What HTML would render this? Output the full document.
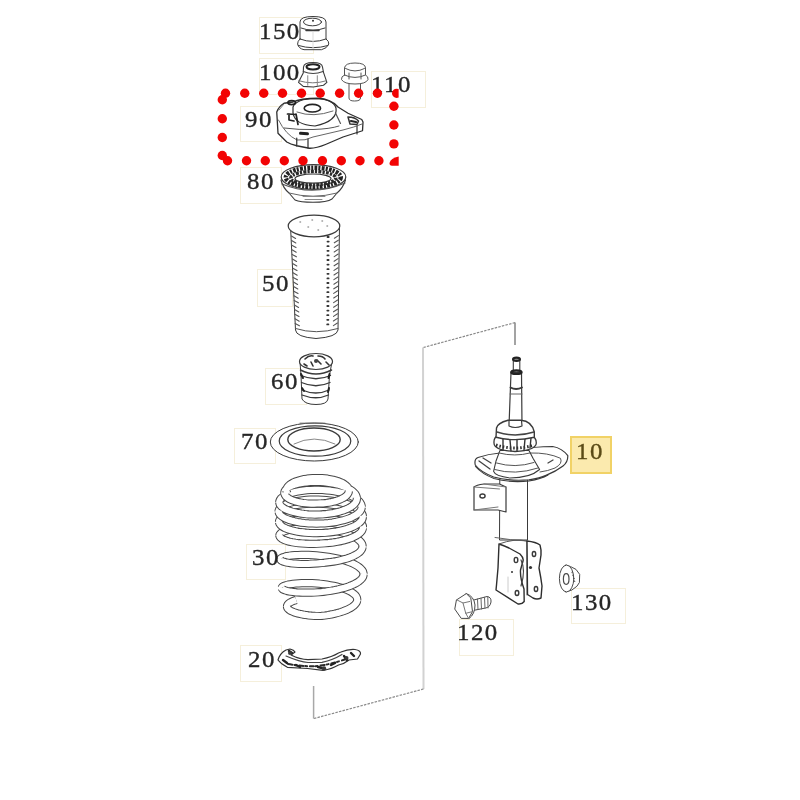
<!DOCTYPE html>
<html><head><meta charset="utf-8">
<style>
html,body{margin:0;padding:0;background:#fff}
body{width:800px;height:800px;position:relative;overflow:hidden}
.b{position:absolute;box-sizing:border-box;border:1.5px solid #f5efdb}
.t{position:absolute;font-family:"Liberation Serif",serif;font-size:23px;line-height:23px;color:#262626;letter-spacing:1.4px;white-space:nowrap;will-change:transform;transform:scaleX(1.08);transform-origin:0 0;-webkit-text-stroke:0.35px currentColor}
svg{position:absolute;left:0;top:0}
</style></head><body>
<!-- label boxes -->
<div class="b" style="left:259px;top:17px;width:55px;height:37px"></div>
<div class="b" style="left:259px;top:58px;width:55px;height:37px"></div>
<div class="b" style="left:371px;top:71px;width:55px;height:37px"></div>
<div class="b" style="left:240px;top:106px;width:42px;height:36px"></div>
<div class="b" style="left:240px;top:167px;width:42px;height:37px"></div>
<div class="b" style="left:257px;top:269px;width:36px;height:38px"></div>
<div class="b" style="left:265px;top:368px;width:42px;height:37px"></div>
<div class="b" style="left:234px;top:428px;width:42px;height:36px"></div>
<div class="b" style="left:246px;top:544px;width:40px;height:36px"></div>
<div class="b" style="left:240px;top:645px;width:42px;height:37px"></div>
<div class="b" style="left:570px;top:436px;width:42px;height:38px;border:2px solid #f1d266;background:#fbeaae"></div>
<div class="b" style="left:459px;top:619px;width:55px;height:37px"></div>
<div class="b" style="left:571px;top:588px;width:55px;height:36px"></div>

<svg width="800" height="800" viewBox="0 0 800 800">
<g fill="none">
<path d="M515,345 L515,322.6" stroke="#666" stroke-width="1.2"/>
<path d="M515,322.6 L422.8,347.6" stroke="#8a8a8a" stroke-width="1.2" stroke-dasharray="2.5 1.2"/>
<path d="M423,347.6 L423.5,689" stroke="#d2d2d2" stroke-width="2"/>
<path d="M423.5,689 L313.6,718.6" stroke="#8a8a8a" stroke-width="1.2" stroke-dasharray="2.5 1.2"/>
<path d="M313.6,718.6 L313.6,686" stroke="#a8a8a8" stroke-width="1.5"/>
</g>
<g id="parts" fill="#fff" stroke="#3a3a3a" stroke-width="1" stroke-linejoin="round" stroke-linecap="round">
<!-- 150 cap -->
<g>
<path d="M300,39 L300,22 Q300,16.5 313,16.5 Q326,16.5 326,22 L326,39 Q329,41 328.8,44 Q327,48.5 321.5,49.7 L304,49.7 Q298.5,48.5 297.6,44 Q297.5,41 300,39 Z"/>
<ellipse cx="312.5" cy="22" rx="9" ry="3.8" fill="none"/>
<path d="M301,28 Q313,32.5 325,28" fill="none"/>
<path d="M306,30.5 L319,30.5" fill="none" stroke-width="1.5"/>
<path d="M300,39 Q313,44 326,39" fill="none"/>
<path d="M298.5,45.5 Q313,50 328,45.5" fill="none"/>
<path d="M313,32 L313,48" fill="none" stroke="#ddd"/>
<circle cx="313" cy="20.7" r="1" fill="#333" stroke="none"/>
</g>
<!-- 100 nut -->
<g>
<path d="M303.5,67 L303.25,72.9 L300.4,78.5 L298.5,82.4 L303.25,86.4 L313.4,87 L323.5,85.25 L326.9,82.4 L325.2,77.4 L323.5,72.3 L322.5,67 Q322,62.5 313,62.5 Q304,62.5 303.5,67 Z" stroke-width="1.1"/>
<ellipse cx="313" cy="66.8" rx="6.5" ry="2.6" fill="none" stroke-width="2" stroke="#222"/>
<path d="M303.3,71.5 Q313,75.5 323,71.5" fill="none" stroke="#444" stroke-width="1.2"/>
<path d="M298.75,80.75 Q313,85 326.3,80.75" fill="none" stroke="#777"/>
<path d="M307.75,75.7 L307.75,85.25 M317.3,75.7 L317.3,85.8" fill="none" stroke="#888"/>
</g>
<!-- 110 bolt -->
<g stroke="#555">
<path d="M349,83 L349,98 Q349,101 354.5,101 Q360.5,101 360.5,98 L360.5,83 Z"/>
<path d="M344.5,75 L344.5,68 Q345,63 355,63 Q365.5,63 365.5,68 L365.5,75 Q368.5,76.5 368,79.5 Q366,84 355,84 Q344,84 341.5,79.5 Q341,76.5 344.5,75 Z"/>
<path d="M345.5,68.5 Q355,73.5 364.5,68.5 M344.5,75 Q355,80 365.5,75 M349,73 L349,79 M361,73 L361,79" fill="none"/>
</g>
<!-- 90 mount -->
<g stroke="#2e2e2e">
<path d="M276.75,112 Q279,106 284,103.25 L293,102 Q300,98.5 318,98.25 Q331,99 338,107 L348,113.25 L361.75,119.5 L363,122 L362.5,130.75 L343,137 L325.5,144.5 Q316,148.5 309.25,148.25 L296.75,145.75 Q290,144 286.75,142 L278,133.25 Z" stroke-width="1.3"/>
<path d="M293,107 Q296,99 315,98.5 Q333,99 336,108 Q338,121 315,126 Q295,125 293,113 Z" fill="none" stroke-width="1.2"/>
<ellipse cx="312.4" cy="108.2" rx="8.2" ry="3.8" fill="none" stroke-width="1.6" stroke="#222"/>
<path d="M297,112 Q313,118 333,111" fill="none" stroke="#666"/>
<ellipse cx="291.7" cy="102.6" rx="3.8" ry="2" fill="none" stroke-width="1.8" stroke="#222"/>
<path d="M284,128 Q300,130 313,129.5 Q330,129 339,126" fill="none" stroke="#555"/>
<path d="M278.5,120 Q286,135 297,140 Q305,141 313,137 L343,130 Q355,127 362,124" fill="none" stroke="#666"/>
<path d="M296.75,138 L296.75,146 M308,139 L308,148" fill="none" stroke-width="1.2"/>
<path d="M287.5,114 L296,114.5 M289,114 L289,120 L294,121 M296,114 L298,124.5" fill="none" stroke-width="1.7" stroke="#222"/>
<path d="M300.5,133.3 L307.5,133.8" fill="none" stroke-width="3" stroke="#222"/>
<path d="M348,117 Q355,117 358.5,121 L357,124.5 L350,124 Z" fill="none" stroke-width="1.5" stroke="#333"/>
<path d="M351,121 L356,122" fill="none" stroke-width="2.2" stroke="#222"/>
<path d="M335.5,113 L340.5,123.5" fill="none" stroke="#555" stroke-width="1.2"/>
<path d="M357,126 L357,134" fill="none" stroke-width="1.2"/>
<path d="M284,104 L279,110" fill="none" stroke="#777"/>
</g>
<!-- 80 bearing -->
<g>
<path d="M281,180 Q283,188 289,193 L295,200 Q300,202.3 313,202.3 Q327,202.3 332,199 L337,193 Q343,188 345.5,180" stroke-width="1.1"/>
<ellipse cx="313.5" cy="177" rx="32.3" ry="12.3" stroke-width="1.2"/>
<ellipse cx="313.3" cy="177.3" rx="27.5" ry="9.6" fill="none" stroke="#222" stroke-width="4.4" stroke-dasharray="2.8 1.1 2 1.3" stroke-linecap="butt"/>
<ellipse cx="313.3" cy="178" rx="22.5" ry="6.6" fill="none" stroke="#2a2a2a" stroke-width="3.4" stroke-dasharray="2.2 1.2 3 1.1" stroke-linecap="butt"/>
<ellipse cx="313" cy="178.6" rx="18" ry="4.6" fill="#fff" stroke="#333" stroke-width="1.2"/>
<path d="M282,184 Q313,197 345,183" fill="none" stroke="#555" stroke-width="1.2"/>
<path d="M289,193 Q313,199.5 337,193" fill="none" stroke="#666"/>
<path d="M303,196.5 L325,196.5 M305,199.5 L322,199.5" fill="none" stroke="#888"/>
</g>
<!-- 50 boot -->
<g>
<path d="M290.5,226 L295.5,330 Q296,337 316,338.5 Q337,337 338,330 L339.5,226 Z"/>
<ellipse cx="314" cy="226" rx="25.8" ry="10.8" stroke-width="1.2"/>
<path d="M295.5,328.5 Q316,335 338,328.5" fill="none" stroke="#555"/>
<g fill="none" stroke="#555" stroke-width="1.1" id="bl"><path d="M291.4,236.0 l4.2,2.4 M334.4,238.2 l4,-2.6 M291.6,240.6 l4.2,2.4 M334.3,242.8 l4,-2.6 M291.8,245.2 l4.2,2.4 M334.3,247.4 l4,-2.6 M292.0,249.8 l4.2,2.4 M334.2,252.0 l4,-2.6 M292.2,254.4 l4.2,2.4 M334.2,256.6 l4,-2.6 M292.4,259.0 l4.2,2.4 M334.1,261.2 l4,-2.6 M292.6,263.6 l4.2,2.4 M334.1,265.8 l4,-2.6 M292.8,268.2 l4.2,2.4 M334.0,270.4 l4,-2.6 M293.0,272.8 l4.2,2.4 M334.0,275.0 l4,-2.6 M293.2,277.4 l4.2,2.4 M333.9,279.6 l4,-2.6 M293.4,282.0 l4.2,2.4 M333.9,284.2 l4,-2.6 M293.6,286.6 l4.2,2.4 M333.8,288.8 l4,-2.6 M293.8,291.2 l4.2,2.4 M333.7,293.4 l4,-2.6 M294.0,295.8 l4.2,2.4 M333.7,298.0 l4,-2.6 M294.2,300.4 l4.2,2.4 M333.6,302.6 l4,-2.6 M294.4,305.0 l4.2,2.4 M333.6,307.2 l4,-2.6 M294.6,309.6 l4.2,2.4 M333.5,311.8 l4,-2.6 M294.8,314.2 l4.2,2.4 M333.5,316.4 l4,-2.6 M295.0,318.8 l4.2,2.4 M333.4,321.0 l4,-2.6 M295.2,323.4 l4.2,2.4 M333.4,325.6 l4,-2.6"/><path d="M327.5,237.0 l1.2,0 M327.5,241.6 l1.2,0 M327.4,246.2 l1.2,0 M327.4,250.8 l1.2,0 M327.4,255.4 l1.2,0 M327.4,260.0 l1.2,0 M327.4,264.6 l1.2,0 M327.4,269.2 l1.2,0 M327.4,273.8 l1.2,0 M327.4,278.4 l1.2,0 M327.3,283.0 l1.2,0 M327.3,287.6 l1.2,0 M327.3,292.2 l1.2,0 M327.3,296.8 l1.2,0 M327.3,301.4 l1.2,0 M327.3,306.0 l1.2,0 M327.3,310.6 l1.2,0 M327.2,315.2 l1.2,0 M327.2,319.8 l1.2,0 M327.2,324.4 l1.2,0" stroke="#333" stroke-width="1.8"/><path d="M300,222 l0.5,0 M312,220 l0.5,0 M322,221 l0.5,0 M308,227 l0.5,0 M327,226 l0.5,0 M318,230 l0.5,0" stroke-width="1.5" stroke="#999"/></g>
</g>
<!-- 60 bump stop -->
<g>
<path d="M300,362 L301,375 L302,399 Q305,404.5 316,404.5 Q327,404.5 328,399 L329.5,375 L332,362 Z"/>
<ellipse cx="316" cy="361.5" rx="16.5" ry="8" stroke-width="1.2"/>
<path d="M300.5,370 Q316,378 331.5,370" fill="none" stroke-width="1.6"/>
<path d="M301,375.5 Q316,382 330.5,375.5 M301.5,382.5 Q316,389 330,382.5 M302,390 Q316,396 329,390 M302,395 Q316,400.5 328.5,395" fill="none" stroke-width="1.3"/>
<path d="M301,374 L303,378 M302,388 L304,391 M329,388 L328,392 M329.5,374 L328.5,378" fill="none" stroke-width="2" stroke="#222"/>
<path d="M305,359 Q309,355 313,356 M318,356 Q323,356 325,359 M311,362 L313,366 M317,360 L321,364 M326,362 L329,365 M304,364 L307,366" fill="none" stroke-width="1.6" stroke="#333"/>
<circle cx="316" cy="361" r="2" fill="#444" stroke="none"/>
</g>
<!-- 70 ring -->
<g>
<ellipse cx="314.3" cy="442" rx="44" ry="19"/>
<ellipse cx="315" cy="441" rx="35.8" ry="15.2" fill="none" stroke-width="1.2"/>
<ellipse cx="314" cy="439.5" rx="26.2" ry="11.5" fill="none" stroke-width="1.4"/>
<path d="M294,444 Q314,434 335,444" fill="none" stroke="#888"/>
<path d="M300,423.2 L325,423.2" fill="none" stroke="#666"/>
</g>
<!-- 30 spring -->
<g id="spring">
<path d="M286.4,490.6 L286.4,489.4 L286.8,488.2 L287.4,487.1 L288.3,486.0 L289.5,484.9 L291.0,483.8 L292.7,482.8 L294.6,481.9 L296.7,481.1 L299.0,480.4 L301.5,479.7 L304.2,479.1 L307.0,478.7 L309.8,478.4 L312.8,478.1 L315.8,478.0 L318.8,478.0 L321.8,478.1 L324.7,478.4 L327.6,478.7 L330.4,479.2 L333.1,479.7 L335.7,480.4 L338.0,481.1 L340.2,482.0 L342.2,482.9 L343.9,483.9 L345.4,485.0 L346.7,486.1 L347.7,487.2 L348.3,488.4 L348.8,489.6 L348.9,490.8 M284.4,493.4 L284.4,492.3 L284.7,491.1 L285.4,490.0 L286.3,489.0 L287.5,487.9 L289.1,486.9 L290.9,486.0 L293.0,485.2 L295.3,484.4 L297.9,483.7 L300.7,483.1 L303.7,482.6 L306.8,482.3 L310.1,482.0 L313.4,481.9 L316.8,481.9 L320.3,482.0 L323.8,482.2 L327.3,482.6 L330.7,483.1 L334.0,483.7 L337.2,484.4 L340.2,485.3 L343.1,486.2 L345.7,487.3 L348.2,488.4 L350.3,489.6 L352.2,490.9 L353.8,492.3 L355.1,493.7 L356.0,495.2 L356.6,496.6 L356.9,498.1 M279.3,502.4 L279.4,501.1 L279.9,499.9 L280.8,498.6 L282.1,497.4 L283.7,496.3 L285.6,495.2 L287.9,494.2 L290.4,493.3 L293.3,492.5 L296.4,491.7 L299.7,491.1 L303.2,490.6 L306.9,490.2 L310.7,490.0 L314.5,489.8 L318.5,489.9 L322.4,490.0 L326.4,490.3 L330.3,490.7 L334.1,491.2 L337.8,491.9 L341.3,492.7 L344.6,493.6 L347.7,494.6 L350.6,495.7 L353.2,497.0 L355.4,498.3 L357.4,499.6 L359.0,501.0 L360.2,502.5 L361.1,504.0 L361.6,505.6 L361.7,507.1 M278.6,511.8 L278.7,510.5 L279.2,509.3 L280.0,508.1 L281.3,506.9 L282.9,505.8 L284.8,504.8 L287.1,503.8 L289.7,502.9 L292.6,502.1 L295.7,501.4 L299.1,500.8 L302.6,500.3 L306.4,499.9 L310.2,499.7 L314.2,499.6 L318.2,499.6 L322.3,499.8 L326.3,500.1 L330.3,500.5 L334.2,501.0 L338.0,501.7 L341.6,502.5 L345.0,503.4 L348.2,504.4 L351.1,505.5 L353.8,506.7 L356.2,508.0 L358.2,509.3 L359.9,510.7 L361.2,512.2 L362.1,513.6 L362.7,515.1 L362.9,516.7 M279.0,522.1 L279.1,521.0 L279.6,519.8 L280.5,518.7 L281.8,517.6 L283.4,516.6 L285.3,515.6 L287.6,514.7 L290.3,513.8 L293.2,513.1 L296.3,512.4 L299.7,511.9 L303.3,511.4 L307.0,511.1 L310.9,510.9 L314.8,510.8 L318.9,510.9 L322.9,511.0 L326.9,511.3 L330.9,511.8 L334.8,512.3 L338.5,513.0 L342.1,513.7 L345.5,514.6 L348.7,515.6 L351.6,516.7 L354.2,517.9 L356.5,519.1 L358.5,520.4 L360.2,521.8 L361.4,523.2 L362.3,524.6 L362.9,526.1 L363.0,527.6 M279.4,535.6 L279.5,534.7 L280.1,533.9 L281.0,533.0 L282.3,532.2 L284.0,531.4 L286.0,530.7 L288.3,530.1 L291.0,529.5 L293.9,529.1 L297.0,528.7 L300.4,528.4 L304.0,528.2 L307.7,528.1 L311.6,528.2 L315.5,528.3 L319.5,528.6 L323.5,529.0 L327.5,529.5 L331.4,530.1 L335.2,530.8 L338.9,531.6 L342.5,532.5 L345.8,533.5 L348.9,534.6 L351.7,535.8 L354.3,537.0 L356.5,538.3 L358.4,539.7 L360.0,541.1 L361.2,542.5 L362.1,543.9 L362.5,545.4 L362.6,546.8 M280.4,559.3 L280.5,558.7 L281.1,558.2 L282.0,557.6 L283.3,557.1 L285.0,556.6 L287.0,556.1 L289.3,555.7 L291.9,555.4 L294.8,555.1 L298.0,555.0 L301.3,554.9 L304.9,554.9 L308.6,554.9 L312.5,555.1 L316.4,555.4 L320.4,555.8 L324.4,556.3 L328.4,556.8 L332.3,557.5 L336.1,558.3 L339.8,559.1 L343.4,560.1 L346.7,561.1 L349.8,562.3 L352.7,563.4 L355.2,564.7 L357.5,566.0 L359.4,567.4 L361.0,568.8 L362.2,570.2 L363.1,571.7 L363.5,573.2 L363.6,574.1 M281.7,587.9 L281.9,587.3 L282.5,586.7 L283.4,586.1 L284.7,585.6 L286.3,585.1 L288.2,584.6 L290.4,584.2 L292.9,583.8 L295.7,583.5 L298.6,583.3 L301.8,583.1 L305.1,583.1 L308.6,583.1 L312.1,583.2 L315.8,583.4 L319.4,583.7 L323.0,584.1 L326.7,584.6 L330.2,585.2 L333.6,585.8 L336.9,586.6 L340.0,587.4 L343.0,588.3 L345.7,589.3 L348.2,590.4 L350.4,591.5 L352.3,592.7 L353.9,593.9 L355.3,595.1 L356.3,596.4 L356.9,597.7 L357.2,599.1 L357.2,600.4 M287.0,606.6 L287.1,605.7 L287.5,604.8 L288.3,603.9 L289.3,603.0 L290.6,602.2 L292.2,601.4 L294.1,600.7 L296.2,600.0" fill="none" stroke="#484848" stroke-width="8.2" stroke-linecap="butt" stroke-linejoin="round"/>
<path d="M286.4,490.6 L286.4,489.4 L286.8,488.2 L287.4,487.1 L288.3,486.0 L289.5,484.9 L291.0,483.8 L292.7,482.8 L294.6,481.9 L296.7,481.1 L299.0,480.4 L301.5,479.7 L304.2,479.1 L307.0,478.7 L309.8,478.4 L312.8,478.1 L315.8,478.0 L318.8,478.0 L321.8,478.1 L324.7,478.4 L327.6,478.7 L330.4,479.2 L333.1,479.7 L335.7,480.4 L338.0,481.1 L340.2,482.0 L342.2,482.9 L343.9,483.9 L345.4,485.0 L346.7,486.1 L347.7,487.2 L348.3,488.4 L348.8,489.6 L348.9,490.8 M284.4,493.4 L284.4,492.3 L284.7,491.1 L285.4,490.0 L286.3,489.0 L287.5,487.9 L289.1,486.9 L290.9,486.0 L293.0,485.2 L295.3,484.4 L297.9,483.7 L300.7,483.1 L303.7,482.6 L306.8,482.3 L310.1,482.0 L313.4,481.9 L316.8,481.9 L320.3,482.0 L323.8,482.2 L327.3,482.6 L330.7,483.1 L334.0,483.7 L337.2,484.4 L340.2,485.3 L343.1,486.2 L345.7,487.3 L348.2,488.4 L350.3,489.6 L352.2,490.9 L353.8,492.3 L355.1,493.7 L356.0,495.2 L356.6,496.6 L356.9,498.1 M279.3,502.4 L279.4,501.1 L279.9,499.9 L280.8,498.6 L282.1,497.4 L283.7,496.3 L285.6,495.2 L287.9,494.2 L290.4,493.3 L293.3,492.5 L296.4,491.7 L299.7,491.1 L303.2,490.6 L306.9,490.2 L310.7,490.0 L314.5,489.8 L318.5,489.9 L322.4,490.0 L326.4,490.3 L330.3,490.7 L334.1,491.2 L337.8,491.9 L341.3,492.7 L344.6,493.6 L347.7,494.6 L350.6,495.7 L353.2,497.0 L355.4,498.3 L357.4,499.6 L359.0,501.0 L360.2,502.5 L361.1,504.0 L361.6,505.6 L361.7,507.1 M278.6,511.8 L278.7,510.5 L279.2,509.3 L280.0,508.1 L281.3,506.9 L282.9,505.8 L284.8,504.8 L287.1,503.8 L289.7,502.9 L292.6,502.1 L295.7,501.4 L299.1,500.8 L302.6,500.3 L306.4,499.9 L310.2,499.7 L314.2,499.6 L318.2,499.6 L322.3,499.8 L326.3,500.1 L330.3,500.5 L334.2,501.0 L338.0,501.7 L341.6,502.5 L345.0,503.4 L348.2,504.4 L351.1,505.5 L353.8,506.7 L356.2,508.0 L358.2,509.3 L359.9,510.7 L361.2,512.2 L362.1,513.6 L362.7,515.1 L362.9,516.7 M279.0,522.1 L279.1,521.0 L279.6,519.8 L280.5,518.7 L281.8,517.6 L283.4,516.6 L285.3,515.6 L287.6,514.7 L290.3,513.8 L293.2,513.1 L296.3,512.4 L299.7,511.9 L303.3,511.4 L307.0,511.1 L310.9,510.9 L314.8,510.8 L318.9,510.9 L322.9,511.0 L326.9,511.3 L330.9,511.8 L334.8,512.3 L338.5,513.0 L342.1,513.7 L345.5,514.6 L348.7,515.6 L351.6,516.7 L354.2,517.9 L356.5,519.1 L358.5,520.4 L360.2,521.8 L361.4,523.2 L362.3,524.6 L362.9,526.1 L363.0,527.6 M279.4,535.6 L279.5,534.7 L280.1,533.9 L281.0,533.0 L282.3,532.2 L284.0,531.4 L286.0,530.7 L288.3,530.1 L291.0,529.5 L293.9,529.1 L297.0,528.7 L300.4,528.4 L304.0,528.2 L307.7,528.1 L311.6,528.2 L315.5,528.3 L319.5,528.6 L323.5,529.0 L327.5,529.5 L331.4,530.1 L335.2,530.8 L338.9,531.6 L342.5,532.5 L345.8,533.5 L348.9,534.6 L351.7,535.8 L354.3,537.0 L356.5,538.3 L358.4,539.7 L360.0,541.1 L361.2,542.5 L362.1,543.9 L362.5,545.4 L362.6,546.8 M280.4,559.3 L280.5,558.7 L281.1,558.2 L282.0,557.6 L283.3,557.1 L285.0,556.6 L287.0,556.1 L289.3,555.7 L291.9,555.4 L294.8,555.1 L298.0,555.0 L301.3,554.9 L304.9,554.9 L308.6,554.9 L312.5,555.1 L316.4,555.4 L320.4,555.8 L324.4,556.3 L328.4,556.8 L332.3,557.5 L336.1,558.3 L339.8,559.1 L343.4,560.1 L346.7,561.1 L349.8,562.3 L352.7,563.4 L355.2,564.7 L357.5,566.0 L359.4,567.4 L361.0,568.8 L362.2,570.2 L363.1,571.7 L363.5,573.2 L363.6,574.1 M281.7,587.9 L281.9,587.3 L282.5,586.7 L283.4,586.1 L284.7,585.6 L286.3,585.1 L288.2,584.6 L290.4,584.2 L292.9,583.8 L295.7,583.5 L298.6,583.3 L301.8,583.1 L305.1,583.1 L308.6,583.1 L312.1,583.2 L315.8,583.4 L319.4,583.7 L323.0,584.1 L326.7,584.6 L330.2,585.2 L333.6,585.8 L336.9,586.6 L340.0,587.4 L343.0,588.3 L345.7,589.3 L348.2,590.4 L350.4,591.5 L352.3,592.7 L353.9,593.9 L355.3,595.1 L356.3,596.4 L356.9,597.7 L357.2,599.1 L357.2,600.4 M287.0,606.6 L287.1,605.7 L287.5,604.8 L288.3,603.9 L289.3,603.0 L290.6,602.2 L292.2,601.4 L294.1,600.7 L296.2,600.0" fill="none" stroke="#fff" stroke-width="6.2" stroke-linecap="butt" stroke-linejoin="round"/>
<path d="M287.9,494.1 L287.1,493.0 L286.6,491.8 L286.4,490.6 M348.9,490.8 L348.7,492.1 L348.2,493.3 L347.5,494.5 L346.5,495.6 L345.2,496.7 L343.6,497.8 L341.8,498.7 L339.8,499.7 L337.6,500.5 L335.2,501.2 L332.6,501.9 L329.9,502.4 L327.0,502.9 L324.1,503.2 L321.1,503.4 L318.1,503.5 L315.1,503.6 L312.1,503.6 L309.1,503.5 L306.1,503.3 L303.3,503.0 L300.6,502.6 L298.0,502.0 L295.5,501.4 L293.3,500.7 L291.2,499.9 L289.4,499.0 L287.9,498.0 L286.6,497.0 L285.6,496.0 L284.9,494.9 L284.5,493.8 L284.4,493.4 M356.9,498.1 L356.8,499.6 L356.4,501.1 L355.6,502.5 L354.4,504.0 L353.0,505.3 L351.2,506.7 L349.0,507.9 L346.6,509.1 L344.0,510.1 L341.0,511.1 L337.9,512.0 L334.5,512.7 L331.0,513.4 L327.4,513.9 L323.7,514.2 L319.9,514.5 L316.0,514.6 L312.2,514.5 L308.5,514.3 L304.8,514.0 L301.3,513.6 L298.0,513.0 L294.8,512.4 L291.9,511.6 L289.2,510.7 L286.8,509.8 L284.7,508.7 L282.9,507.6 L281.5,506.5 L280.4,505.3 L279.6,504.0 L279.3,502.8 L279.3,502.4 M361.7,507.1 L361.5,508.6 L360.8,510.2 L359.8,511.7 L358.4,513.1 L356.7,514.5 L354.6,515.8 L352.2,517.1 L349.5,518.3 L346.5,519.3 L343.3,520.3 L339.8,521.1 L336.2,521.9 L332.4,522.5 L328.5,523.0 L324.5,523.3 L320.5,523.5 L316.5,523.6 L312.5,523.5 L308.6,523.3 L304.8,523.0 L301.1,522.6 L297.6,522.0 L294.3,521.3 L291.3,520.5 L288.6,519.7 L286.1,518.7 L284.0,517.7 L282.2,516.6 L280.7,515.4 L279.6,514.2 L278.9,513.0 L278.6,511.8 M362.9,516.7 L362.7,518.2 L362.1,519.7 L361.1,521.1 L359.7,522.6 L358.0,523.9 L355.9,525.2 L353.6,526.5 L350.9,527.6 L347.9,528.7 L344.7,529.6 L341.3,530.5 L337.6,531.2 L333.9,531.9 L330.0,532.4 L326.0,532.7 L322.0,533.0 L317.9,533.1 L313.9,533.1 L310.0,533.0 L306.1,532.7 L302.4,532.3 L298.9,531.9 L295.5,531.3 L292.5,530.6 L289.6,529.8 L287.1,528.9 L284.9,528.0 L283.0,527.0 L281.4,525.9 L280.3,524.8 L279.5,523.7 L279.1,522.5 L279.0,522.1 M363.0,527.6 L362.7,529.0 L362.1,530.5 L361.1,531.9 L359.7,533.3 L357.9,534.6 L355.8,535.9 L353.4,537.1 L350.7,538.2 L347.7,539.3 L344.4,540.2 L341.0,541.1 L337.3,541.8 L333.5,542.4 L329.6,542.9 L325.6,543.2 L321.6,543.5 L317.6,543.7 L313.6,543.8 L309.6,543.9 L305.8,543.7 L302.1,543.5 L298.6,543.2 L295.4,542.8 L292.3,542.3 L289.5,541.7 L287.1,541.0 L284.9,540.2 L283.1,539.4 L281.6,538.6 L280.5,537.7 L279.8,536.8 L279.4,535.9 L279.4,535.6 M362.6,546.8 L362.3,548.3 L361.6,549.7 L360.6,551.1 L359.2,552.5 L357.4,553.8 L355.3,555.0 L352.9,556.2 L350.2,557.3 L347.3,558.4 L344.1,559.3 L340.7,560.2 L337.1,560.9 L333.4,561.6 L329.5,562.2 L325.6,562.6 L321.7,563.0 L317.8,563.4 L313.9,563.7 L310.0,563.9 L306.3,564.0 L302.7,564.0 L299.3,563.9 L296.1,563.7 L293.1,563.5 L290.3,563.1 L287.9,562.8 L285.8,562.3 L284.0,561.8 L282.5,561.3 L281.5,560.7 L280.7,560.1 L280.4,559.5 L280.4,559.3 M363.6,574.1 L363.4,575.6 L362.9,577.1 L361.9,578.5 L360.6,579.9 L358.9,581.3 L356.9,582.6 L354.6,583.9 L351.9,585.1 L349.0,586.3 L345.8,587.3 L342.4,588.3 L338.8,589.2 L335.0,590.0 L331.2,590.7 L327.2,591.3 L323.2,591.9 L319.1,592.2 L315.1,592.5 L311.2,592.7 L307.4,592.7 L303.8,592.7 L300.3,592.6 L297.1,592.4 L294.1,592.1 L291.4,591.8 L289.0,591.4 L286.9,590.9 L285.2,590.4 L283.8,589.9 L282.7,589.3 L282.1,588.7 L281.8,588.1 L281.7,587.9 M357.2,600.4 L356.9,601.7 L356.2,603.0 L355.2,604.3 L353.9,605.6 L352.3,606.8 L350.5,608.0 L348.3,609.1 L346.0,610.2 L343.4,611.2 L340.6,612.1 L337.7,612.9 L334.6,613.7 L331.5,614.4 L328.2,615.0 L324.9,615.5 L321.6,615.9 L318.4,616.0 L315.1,615.9 L311.9,615.7 L308.8,615.4 L305.8,615.0 L303.0,614.6 L300.3,614.0 L297.8,613.4 L295.5,612.8 L293.5,612.1 L291.7,611.3 L290.1,610.5 L288.9,609.6 L288.0,608.8 L287.4,607.9 L287.0,606.9 L287.0,606.6" fill="none" stroke="#484848" stroke-width="8.2" stroke-linecap="butt" stroke-linejoin="round"/>
<path d="M287.9,494.1 L287.1,493.0 L286.6,491.8 L286.4,490.6 L286.4,489.8 M348.8,490.0 L348.8,491.3 L348.6,492.5 L348.0,493.7 L347.2,494.8 L346.1,496.0 L344.7,497.1 L343.1,498.1 L341.2,499.1 L339.1,499.9 L336.8,500.7 L334.3,501.5 L331.7,502.1 L328.9,502.6 L326.1,503.0 L323.1,503.3 L320.1,503.4 L317.1,503.5 L314.1,503.6 L311.1,503.6 L308.1,503.5 L305.2,503.2 L302.4,502.9 L299.7,502.4 L297.1,501.8 L294.8,501.2 L292.6,500.4 L290.6,499.6 L288.9,498.7 L287.4,497.7 L286.2,496.7 L285.3,495.6 L284.7,494.5 L284.4,493.4 L284.4,492.6 M356.8,497.1 L356.9,498.6 L356.7,500.1 L356.1,501.6 L355.2,503.0 L354.0,504.4 L352.4,505.8 L350.5,507.1 L348.3,508.3 L345.8,509.4 L343.0,510.5 L340.0,511.4 L336.8,512.2 L333.4,513.0 L329.8,513.5 L326.2,514.0 L322.4,514.3 L318.6,514.5 L314.8,514.6 L311.0,514.5 L307.2,514.3 L303.6,513.9 L300.2,513.4 L296.9,512.8 L293.8,512.1 L290.9,511.3 L288.3,510.4 L286.0,509.4 L284.0,508.4 L282.4,507.3 L281.1,506.1 L280.1,504.9 L279.5,503.6 L279.3,502.4 L279.3,501.5 M361.6,505.6 L361.7,507.1 L361.5,508.6 L360.8,510.2 L359.8,511.7 L358.4,513.1 L356.7,514.5 L354.6,515.8 L352.2,517.1 L349.5,518.3 L346.5,519.3 L343.3,520.3 L339.8,521.1 L336.2,521.9 L332.4,522.5 L328.5,523.0 L324.5,523.3 L320.5,523.5 L316.5,523.6 L312.5,523.5 L308.6,523.3 L304.8,523.0 L301.1,522.6 L297.6,522.0 L294.3,521.3 L291.3,520.5 L288.6,519.7 L286.1,518.7 L284.0,517.7 L282.2,516.6 L280.7,515.4 L279.6,514.2 L278.9,513.0 L278.6,511.8 L278.7,510.5 M362.8,515.7 L362.8,517.2 L362.5,518.7 L361.8,520.2 L360.7,521.6 L359.2,523.0 L357.4,524.4 L355.2,525.7 L352.7,526.9 L349.9,528.0 L346.9,529.0 L343.6,529.9 L340.1,530.8 L336.4,531.5 L332.6,532.0 L328.7,532.5 L324.7,532.8 L320.6,533.0 L316.6,533.1 L312.6,533.1 L308.7,532.9 L304.9,532.6 L301.2,532.2 L297.7,531.7 L294.5,531.0 L291.5,530.3 L288.7,529.5 L286.3,528.6 L284.2,527.6 L282.4,526.6 L281.0,525.5 L280.0,524.4 L279.3,523.3 L279.0,522.1 L279.0,521.3 M363.0,526.6 L363.0,528.1 L362.6,529.5 L361.8,531.0 L360.6,532.4 L359.1,533.8 L357.2,535.1 L355.0,536.3 L352.5,537.5 L349.7,538.6 L346.6,539.6 L343.3,540.5 L339.8,541.3 L336.1,542.0 L332.2,542.6 L328.3,543.0 L324.3,543.3 L320.2,543.6 L316.2,543.8 L312.2,543.9 L308.3,543.8 L304.6,543.7 L301.0,543.4 L297.5,543.1 L294.3,542.6 L291.4,542.1 L288.7,541.4 L286.3,540.7 L284.2,540.0 L282.5,539.2 L281.2,538.3 L280.2,537.4 L279.6,536.5 L279.4,535.6 L279.4,535.0 M362.6,545.9 L362.6,547.3 L362.1,548.8 L361.3,550.2 L360.2,551.6 L358.6,552.9 L356.8,554.2 L354.6,555.4 L352.1,556.6 L349.3,557.7 L346.2,558.7 L343.0,559.6 L339.5,560.4 L335.9,561.2 L332.1,561.8 L328.2,562.3 L324.3,562.8 L320.4,563.1 L316.5,563.5 L312.6,563.7 L308.8,563.9 L305.1,564.0 L301.5,564.0 L298.2,563.8 L295.0,563.6 L292.1,563.4 L289.5,563.0 L287.2,562.6 L285.1,562.2 L283.5,561.6 L282.1,561.1 L281.2,560.5 L280.6,559.9 L280.4,559.3 L280.4,558.9 M363.5,573.2 L363.6,574.6 L363.3,576.1 L362.6,577.6 L361.5,579.0 L360.1,580.4 L358.3,581.8 L356.2,583.1 L353.7,584.3 L351.0,585.5 L348.0,586.6 L344.7,587.7 L341.2,588.6 L337.6,589.5 L333.8,590.3 L329.8,590.9 L325.9,591.5 L321.8,592.0 L317.8,592.3 L313.8,592.6 L309.9,592.7 L306.2,592.7 L302.6,592.7 L299.2,592.5 L296.1,592.3 L293.2,592.0 L290.6,591.7 L288.3,591.2 L286.3,590.8 L284.7,590.2 L283.4,589.7 L282.5,589.1 L281.9,588.5 L281.7,587.9 L281.8,587.5 M357.3,599.5 L357.2,600.8 L356.7,602.1 L355.9,603.5 L354.8,604.7 L353.4,606.0 L351.7,607.2 L349.8,608.3 L347.6,609.5 L345.1,610.5 L342.5,611.5 L339.7,612.4 L336.7,613.2 L333.6,613.9 L330.4,614.6 L327.1,615.2 L323.8,615.7 L320.5,616.0 L317.3,615.9 L314.0,615.8 L310.9,615.6 L307.8,615.3 L304.9,614.9 L302.1,614.4 L299.4,613.8 L297.0,613.2 L294.8,612.5 L292.8,611.8 L291.1,611.0 L289.7,610.2 L288.6,609.3 L287.7,608.5 L287.2,607.6 L287.0,606.6 L287.0,606.0" fill="none" stroke="#fff" stroke-width="6.2" stroke-linecap="butt" stroke-linejoin="round"/>
</g>
<!-- 20 seat -->
<g fill="none" stroke-width="1.2">
<path d="M278,660 Q280,653 286,650 L290,649 Q294,650 295,652 L291,655 Q300,659.5 308,659.6 L322,659 Q332,657 338.5,653 L341,652 Q348,649 355,649.5 Q361,650.5 360.5,654 L357.5,659 L349,660 Q344,664 338.5,665 Q332,669 323,670.3 Q312,669 307.6,668.5 L287.4,667.3 Q281,664 278,660 Z" fill="#fff" stroke="#333"/>
<path d="M286,656 Q300,662 308,662.5 L322,662.3 Q333,660 342,654.5" stroke="#444"/>
<path d="M288,664 Q300,666 310,666.3 Q325,666.5 346,659" stroke="#2a2a2a" stroke-width="2" stroke-dasharray="4 2 2 3"/>
<path d="M289,651 L292,653 M283,660 L287,663 M296,665 L300,667 M318,667 L322,668 M331,665 L335,663 M344,656 L347,660 M351,653 L354,656" stroke="#222" stroke-width="2.4"/>
<circle cx="290" cy="653" r="2" fill="#3a3a3a" stroke="none"/>
<circle cx="324" cy="668.5" r="2.2" fill="#3a3a3a" stroke="none"/>
<circle cx="346.5" cy="658" r="2" fill="#3a3a3a" stroke="none"/>
</g>
<!-- 10 strut -->
<g>
<!-- tube -->
<path d="M499.8,478 L499.5,540 L527.5,540 L527.5,478 Z"/>
<!-- side bracket -->
<path d="M474,487 Q476,485 484,484 L499.5,484 L506,487 L506,512 L498,510 L474,510 Z" stroke-width="1.2"/>
<path d="M474,487 L499.5,489 M484,484 L506,487 M474,510 L498,507" fill="none" stroke="#777"/>
<ellipse cx="482.5" cy="496" rx="2.6" ry="2" fill="none" stroke-width="1.4"/>
<!-- clevis left plate -->
<path d="M495,537.5 Q510,540 527,541 L527,595" fill="none" stroke="#666"/>
<path d="M499,544 Q505,546 509,548 L520,554 Q524,558 523,561 L520.5,570 Q520,578 524,589 L524.2,601.5 Q522,604.5 518,604 L496,590 L496.5,585 L498,568 Z" stroke-width="1.4" stroke="#2e2e2e"/>
<path d="M499,544 Q515,538 527,541" fill="none" stroke="#555"/>
<path d="M521,560 Q526,570 521,586" fill="none" stroke="#444" stroke-width="1.2"/>
<!-- right plate -->
<path d="M527,541 Q536,542 540,545 Q541.5,550 541,555 L539,568 Q541,578 542,586 L541,598 Q537,600 533,598 L527.5,594.5 Z" stroke-width="1.4" stroke="#2e2e2e"/>
<ellipse cx="516" cy="560" rx="1.8" ry="2.6" fill="none" stroke-width="1.4"/>
<ellipse cx="517" cy="593" rx="1.8" ry="2.5" fill="none" stroke-width="1.4"/>
<ellipse cx="534" cy="554" rx="1.7" ry="2.5" fill="none" stroke-width="1.4"/>
<ellipse cx="536" cy="589" rx="1.7" ry="2.5" fill="none" stroke-width="1.4"/>
<circle cx="530.5" cy="567.5" r="1.6" fill="#333" stroke="none"/>
<circle cx="512" cy="572" r="1" fill="#333" stroke="none"/>
<path d="M508,577 L508,592" fill="none" stroke="#ccc"/>
<!-- spring seat plate -->
<path d="M475.25,465 Q474,459 478,457.5 Q488,454 500,453 L520,450 Q533,446.5 552.7,446.5 Q562,448 567.8,455.7 Q568,462 563,466 Q556,471.4 546,475.4 Q540,478 529,479.8 Q510,481.5 493.6,477 Q480,471.5 475.25,465 Z" stroke-width="1.2"/>
<path d="M475.5,466.5 Q482,474 494,478.5 Q510,483 529,481 Q541,479 548,475" fill="none" stroke-width="1.1"/>
<path d="M530.4,453 Q548,452.5 560.5,458.3 Q563,463.6 555,468 Q548,471 540,472" fill="none" stroke="#555"/>
<path d="M479,461 L490,469 M483,458 L491,463 M548,463 L553,460" fill="none" stroke="#444" stroke-width="1.3"/>
<!-- seat cone -->
<path d="M500,450.4 L496,461 L493.6,471.4 Q495,476 510,478 Q530,478 539.6,469.5 L533,458.3 L529,450.4 Z" fill="#fff" stroke-width="1.1"/>
<path d="M499,453 Q515,457 530,453 M496.5,463 Q515,468.5 534,462.5 M494.5,469.5 Q515,475.5 538,468" fill="none" stroke="#555"/>
<!-- rod -->
<path d="M511,372.5 L509,426 Q515,429 522,426 L521.5,372.5 Z" stroke-width="1.2"/>
<path d="M510.5,387.5 Q516,390.5 522,387.5" fill="none" stroke-width="1.8"/>
<path d="M510,394 L522,394" fill="none" stroke="#666"/>
<path d="M513.3,359 L513.3,371 L519.8,371 L519.8,359 Z" stroke-width="1.1"/>
<ellipse cx="516.4" cy="372.2" rx="5.2" ry="1.8" fill="none" stroke-width="2.2" stroke="#222"/>
<ellipse cx="516.5" cy="359.2" rx="3.4" ry="1.6" fill="none" stroke-width="2.2" stroke="#222"/>
<!-- lower cup w teeth -->
<path d="M494,443 Q493.6,437 498,436 L531,436 Q536.3,437 536.3,443 Q536,450.5 515,451.5 Q494,450.5 494,443 Z" stroke-width="1.3"/>
<path d="M496,445 Q515,451 534,445" fill="none" stroke="#2a2a2a" stroke-width="3" stroke-dasharray="1.5 2" stroke-linecap="butt"/>
<path d="M503,439 L503,450 M510,440 L511,451 M517,440 L517,451 M525,439 L524,450 M531,438 L530,448" fill="none" stroke="#333" stroke-width="1.4"/>
<!-- upper cup -->
<path d="M496,437.3 L496.5,428 Q497.5,423 508,420.2 L521,420.2 Q531.7,421 534.3,432 L534.3,437.3 Q515,442 496,437.3 Z" stroke-width="1.4"/>
<path d="M509,420.5 L509,426 Q515,429 522,426 L521.5,420.5" fill="none" stroke-width="1.2"/>
<path d="M497,432 Q515,438 534,432" fill="none" stroke="#444" stroke-width="1.4"/>
</g>
<!-- 120 bolt -->
<g stroke="#4a4a4a" stroke-width="1">
<path d="M472,600.5 L487,596.5 Q491.5,597 491,602 Q490,607.5 485.5,608 L473,610.5 Z"/>
<path d="M477.5,599 L478,609.5 M481,598.2 L481.5,609 M484.5,597.3 L485,608.3 M487.8,596.8 L488,608" fill="none" stroke="#666"/>
<path d="M466.3,593.6 Q474,596 475,605 Q475,614 469,618.6 L466,618.4 L466,594 Z"/>
<path d="M456.75,599.8 L466.3,593.6 L470.8,598 L472.5,611.6 L468.6,618.4 L461.25,618.4 L455,609.4 Z"/>
<path d="M456.75,599.8 L463,603 L469.7,601.5 M463,603 L465.75,613.3 L468.6,618.4 M465.75,613.3 L472.5,611.6" fill="none" stroke="#777"/>
</g>
<!-- 130 nut -->
<g stroke="#4a4a4a" stroke-width="1">
<path d="M566,565 L570.6,566.6 L576,569.4 L579.7,574.4 L579.4,582.5 L576.9,586.25 L571.9,590 L566,592 Z"/>
<ellipse cx="566.6" cy="578.5" rx="7.2" ry="13.4"/>
<ellipse cx="566.2" cy="579" rx="2.8" ry="5.3" fill="none" stroke-width="1.2"/>
<path d="M571.9,571.9 L575,582.5" fill="none" stroke-dasharray="1.5 1.5" stroke-linecap="butt"/>
</g>
</g>
</svg>

<!-- label texts -->
<div class="t" style="left:258.9px;top:19.8px">150</div>
<div class="t" style="left:259.0px;top:61.0px">100</div>
<div class="t" style="left:371.0px;top:73.0px">110</div>
<div class="t" style="left:245.0px;top:108.0px">90</div>
<div class="t" style="left:246.8px;top:169.5px">80</div>
<div class="t" style="left:262.3px;top:271.8px">50</div>
<div class="t" style="left:271.4px;top:370.2px">60</div>
<div class="t" style="left:241.0px;top:430.2px">70</div>
<div class="t" style="left:252.0px;top:546.0px">30</div>
<div class="t" style="left:247.8px;top:647.6px">20</div>
<div class="t" style="left:576.0px;top:439.9px;color:#5a4a16">10</div>
<div class="t" style="left:457.2px;top:621.0px">120</div>
<div class="t" style="left:570.5px;top:590.5px">130</div>

<svg width="800" height="800" viewBox="0 0 800 800">
<g fill="#f20404">
<circle cx="225.5" cy="93.2" r="4.7"/><circle cx="244.75" cy="93.2" r="4.7"/><circle cx="263.75" cy="93.2" r="4.7"/><circle cx="282.5" cy="93.2" r="4.7"/><circle cx="301.5" cy="93.2" r="4.7"/><circle cx="320.2" cy="93.2" r="4.7"/><circle cx="339.6" cy="93.2" r="4.7"/><circle cx="358.6" cy="93.2" r="4.7"/><circle cx="377.4" cy="93.2" r="4.7"/><circle cx="222.3" cy="99.8" r="4.7"/><circle cx="222.3" cy="118.75" r="4.7"/><circle cx="222.3" cy="137.5" r="4.7"/><circle cx="222.3" cy="155.5" r="4.7"/><circle cx="227.5" cy="160.8" r="4.7"/><circle cx="246.5" cy="160.8" r="4.7"/><circle cx="265.3" cy="160.8" r="4.7"/><circle cx="284.3" cy="160.8" r="4.7"/><circle cx="303" cy="160.8" r="4.7"/><circle cx="322.4" cy="160.8" r="4.7"/><circle cx="341.3" cy="160.8" r="4.7"/><circle cx="360" cy="160.8" r="4.7"/><circle cx="378.9" cy="160.8" r="4.7"/><circle cx="393.9" cy="106.2" r="4.7"/><circle cx="393.9" cy="125" r="4.7"/><circle cx="393.9" cy="143.9" r="4.7"/><path d="M396.6,88.7 A4.6,4.6 0 1 0 396.6,97.9 L398.6,97.6 L398.6,89 Z"/><path d="M389.5,163 Q390.5,158.3 398.7,156.5 L398.7,165.7 L392,165.7 Q389.3,165.5 389.5,163 Z"/>
</g>
</svg>
</body></html>
